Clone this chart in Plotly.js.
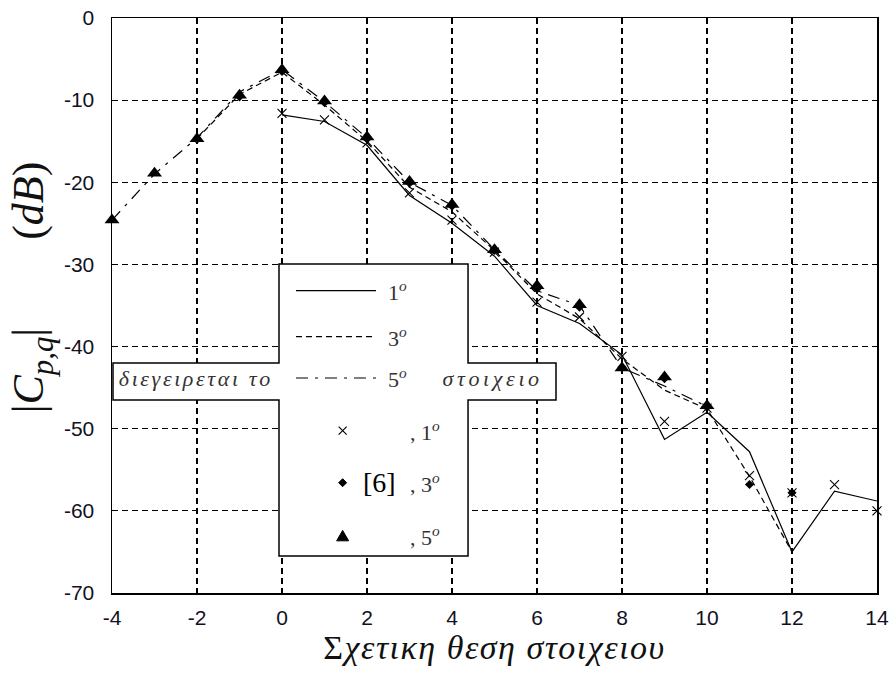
<!DOCTYPE html>
<html>
<head>
<meta charset="utf-8">
<script src="https://cdn.plot.ly/plotly-3.0.1.min.js"></script>
<style>
  html, body { margin: 0; padding: 0; background: #fff; }
  #chart { width: 893px; height: 677px; }
</style>
</head>
<body>
<div id="chart"></div>
<script>
// Relative element positions for each excited element (1st, 3rd, 5th)
const pos1 = [0, 1, 2, 3, 4, 5, 6, 7, 8, 9, 10, 11, 12, 13, 14];
const pos3 = [-2, -1, 0, 1, 2, 3, 4, 5, 6, 7, 8, 9, 10, 11, 12];
const pos5 = [-4, -3, -2, -1, 0, 1, 2, 3, 4, 5, 6, 7, 8, 9, 10];

// Computed coupling |C_pq| in dB (lines)
const calc1 = [-11.8, -12.6, -15.5, -21.6, -25.0, -29.0, -35.0, -37.2, -41.0, -51.3, -48.0, -52.8, -65.0, -57.6, -58.8];
const calc3 = [-14.7, -9.3, -6.6, -10.6, -15.0, -20.6, -23.6, -28.3, -33.6, -36.6, -41.5, -45.3, -47.6, -55.8, -65.0];
const calc5 = [-24.6, -19.0, -14.6, -9.0, -6.3, -10.2, -14.6, -20.0, -22.8, -28.2, -33.2, -35.0, -42.6, -44.8, -47.3];

// Reference values from [6] (markers)
const ref1 = [-11.6, -12.4, -15.2, -21.3, -24.6, -28.5, -34.6, -36.4, -41.2, -49.1, -47.5, -55.7, -57.8, -56.8, -60.0];
const ref3 = [-14.8, -9.6, -6.5, -10.3, -14.7, -20.1, -22.9, -28.3, -33.0, -35.2, -42.5, -43.9, -47.4, -56.8, -57.8];
const ref5 = [-24.6, -18.9, -14.7, -9.4, -6.3, -10.1, -14.5, -19.9, -22.7, -28.2, -32.6, -34.9, -42.6, -43.7, -47.2];

const xTicks = [-4, -2, 0, 2, 4, 6, 8, 10, 12, 14];
const xTickText = ['-4', '-2', '0', '2', '4', '6', '8', '10', '12', '14'];
const yTicks = [-70, -60, -50, -40, -30, -20, -10, 0];
const yTickText = ['-70', '-60', '-50', '-40', '-30', '-20', '-10', '0'];

const dashStyle = '6px,4px';
const dashDotStyle = '12px,7px,3px,7px';

const lineTrace = (x, y, dash) => ({
  x: x, y: y, type: 'scatter', mode: 'lines', cliponaxis: false,
  line: { color: '#000', width: 1.2, dash: dash },
  hoverinfo: 'skip'
});
const markTrace = (x, y, marker) => ({
  x: x, y: y, type: 'scatter', mode: 'markers', cliponaxis: false,
  marker: marker, hoverinfo: 'skip'
});

const traces = [
  lineTrace(pos1, calc1, 'solid'),
  lineTrace(pos3, calc3, dashStyle),
  lineTrace(pos5, calc5, dashDotStyle),
  markTrace(pos3, ref3, { symbol: 'diamond', size: 7, color: '#000' }),
  markTrace(pos5, ref5, { symbol: 'triangle-up', size: 13, color: '#000' }),
  markTrace(pos1, ref1, { symbol: 'x-thin-open', size: 9, color: '#000', line: { color: '#000', width: 1.1 } })
];

// Legend geometry (plot-area fractions)
const plotW = 765;
const L = { left: 0.2183, right: 0.4654, tabR: 0.5804, tabL: 0.0013, top: 0.5722, tabT: 0.4, tabB: 0.3357, bot: 0.0643 };
const rows = [0.5257, 0.4457, 0.3739, 0.2823, 0.1918, 0.0991];
const sampleX0 = 0.2405, sampleX1 = 0.3451;
const keyX = 0.3015;
const dx = 4 / plotW, dy = 4 / 575;

const legendPath = `M${L.left},${L.top} L${L.right},${L.top} L${L.right},${L.tabT} L${L.tabR},${L.tabT} ` +
  `L${L.tabR},${L.tabB} L${L.right},${L.tabB} L${L.right},${L.bot} L${L.left},${L.bot} ` +
  `L${L.left},${L.tabB} L${L.tabL},${L.tabB} L${L.tabL},${L.tabT} L${L.left},${L.tabT} Z`;

const shapes = [
  { type: 'path', xref: 'paper', yref: 'paper', path: legendPath, fillcolor: '#fff', line: { color: '#000', width: 1.5 }, layer: 'above' },
  { type: 'line', xref: 'paper', yref: 'paper', x0: sampleX0, x1: sampleX1, y0: rows[0], y1: rows[0], line: { color: '#000', width: 1.2 } },
  { type: 'line', xref: 'paper', yref: 'paper', x0: sampleX0, x1: sampleX1, y0: rows[1], y1: rows[1], line: { color: '#000', width: 1.2, dash: dashStyle } },
  { type: 'line', xref: 'paper', yref: 'paper', x0: sampleX0, x1: sampleX1, y0: rows[2], y1: rows[2], line: { color: '#000', width: 1.2, dash: dashDotStyle } },
  // legend keys: cross, diamond, triangle
  { type: 'line', xref: 'paper', yref: 'paper', x0: keyX - dx, x1: keyX + dx, y0: rows[3] - dy, y1: rows[3] + dy, line: { color: '#000', width: 1.1 } },
  { type: 'line', xref: 'paper', yref: 'paper', x0: keyX - dx, x1: keyX + dx, y0: rows[3] + dy, y1: rows[3] - dy, line: { color: '#000', width: 1.1 } },
  { type: 'path', xref: 'paper', yref: 'paper', fillcolor: '#000', line: { color: '#000', width: 1 },
    path: `M${keyX - dx},${rows[4]} L${keyX},${rows[4] + dy} L${keyX + dx},${rows[4]} L${keyX},${rows[4] - dy} Z` },
  { type: 'path', xref: 'paper', yref: 'paper', fillcolor: '#000', line: { color: '#000', width: 1 },
    path: `M${keyX - 1.5 * dx},${rows[5] - 1.2 * dy} L${keyX},${rows[5] + 1.4 * dy} L${keyX + 1.5 * dx},${rows[5] - 1.2 * dy} Z` }
];

const legFont = { family: 'Liberation Serif', size: 22, color: '#333' };
const note = (x, y, text, font) => ({
  xref: 'paper', yref: 'paper', x: x, y: y, text: text, showarrow: false,
  xanchor: 'left', yanchor: 'middle', font: font || legFont
});
const deg = (n) => n + '<sup><i>o</i></sup>';

// Greek words get extra letter tracking; annotation text is centred,
// so shift the anchor by half of the added width to keep the left edge.
const wordLeft = 'διεγειρεται το', wordRight = 'στοιχειο';
const trackLeft = 2.6, trackRight = 3.6;
const shiftFor = (word, px) => (word.length * px / 2) / plotW;

const annotations = [
  note(0.3582, rows[0], deg('1')),
  note(0.3582, rows[1], deg('3')),
  note(0.3582, rows[2], deg('5')),
  note(0.0065 + shiftFor(wordLeft, trackLeft), rows[2], '<i>' + wordLeft + '</i>'),
  note(0.4301 + shiftFor(wordRight, trackRight), rows[2], '<i>' + wordRight + '</i>'),
  note(0.3869, rows[3], ', ' + deg('1')),
  note(0.3261, rows[4], '[6]', { family: 'Liberation Serif', size: 28, color: '#000' }),
  note(0.3869, rows[4], ', ' + deg('3')),
  note(0.3869, rows[5], ', ' + deg('5'))
];
const tracking = { 3: trackLeft, 4: trackRight };

const axisBase = {
  showgrid: true, gridcolor: '#000', gridwidth: 1.2, griddash: dashStyle,
  showline: true, linecolor: '#000', linewidth: 1.5, mirror: true,
  zeroline: false, ticks: '',
  tickfont: { family: 'Liberation Sans', size: 21, color: '#111122' }
};

const layout = {
  width: 893, height: 677,
  margin: { l: 112, r: 16, t: 18, b: 84 },
  paper_bgcolor: '#fff', plot_bgcolor: '#fff',
  showlegend: false,
  xaxis: Object.assign({}, axisBase, {
    range: [-4, 14], tickvals: xTicks, ticktext: xTickText, ticklabelstandoff: 5,
    title: { text: 'Σ<i>χετικη θεση στοιχειου</i>', font: { family: 'Liberation Serif', size: 34, color: '#111' }, standoff: 6 }
  }),
  yaxis: Object.assign({}, axisBase, {
    range: [-70, 0], tickvals: yTicks, ticktext: yTickText, ticklabelstandoff: 12,
    title: { text: '|<i>C</i><sub><i>p,q</i></sub>|\u00a0\u00a0\u00a0\u00a0\u00a0\u00a0\u00a0\u00a0(<i>dB</i>)', font: { family: 'Liberation Serif', size: 44, color: '#111' }, standoff: 6 }
  }),
  shapes: shapes,
  annotations: annotations
};

Plotly.newPlot('chart', traces, layout, { staticPlot: true, displayModeBar: false }).then(() => {
  document.querySelectorAll('#chart .annotation').forEach((g, i) => {
    if (tracking[i] !== undefined) {
      const t = g.querySelector('text');
      if (t) t.style.letterSpacing = tracking[i] + 'px';
    }
  });
  const xt = document.querySelector('#chart .xtitle');
  if (xt) xt.style.letterSpacing = '1.5px';
  // lift the y title slightly
  const yt = document.querySelector('#chart .g-ytitle');
  if (yt) yt.setAttribute('transform', 'translate(0,-18)');
});
</script>
</body>
</html>
